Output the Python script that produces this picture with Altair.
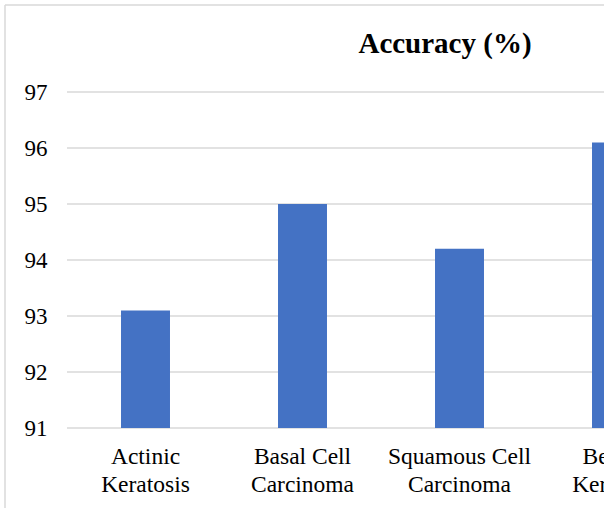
import altair as alt
import pandas as pd

categories = ["Actinic\nKeratosis", "Basal Cell\nCarcinoma", "Squamous Cell\nCarcinoma", "Benign\nKeratosis"]
accuracy = [93.1, 95.0, 94.2, 96.1]
y_ticks = [91, 92, 93, 94, 95, 96, 97]
title_text = "Accuracy (%)"

df = pd.DataFrame({"cat": categories, "acc": accuracy})
grid_df = pd.DataFrame({"tick": y_ticks})

FONT = "Liberation Serif"
PAD_L, PAD_T = 67, 92
W, H = 604 - PAD_L, 336

y_scale = alt.Scale(domain=[91, 97], zero=False, nice=False)
y_axis = alt.Axis(
    values=y_ticks,
    domain=False,
    ticks=False,
    grid=False,
    labelFont=FONT,
    labelFontSize=23,
    labelColor="#000000",
    labelPadding=20,
)

grid = alt.Chart(grid_df).mark_rule(color="#d9d9d9", strokeWidth=1.5).encode(
    y=alt.Y("tick:Q", scale=y_scale, title=None, axis=y_axis),
    x=alt.value(0),
    x2=alt.value(W),
)

bars = alt.Chart(df).mark_bar(color="#4472C4").encode(
    x=alt.X(
        "cat:N",
        sort=None,
        title=None,
        scale=alt.Scale(range=[0, 628], paddingInner=0.688, paddingOuter=0.344),
        axis=alt.Axis(
            domain=False,
            ticks=False,
            grid=False,
            labelAngle=0,
            labelFont=FONT,
            labelFontSize=23.5,
            labelColor="#000000",
            labelPadding=16,
            labelLineHeight=28,
            labelOverlap=False,
            labelExpr="split(datum.label, '\\n')",
        ),
    ),
    y=alt.Y("acc:Q", title=None, scale=y_scale, axis=y_axis),
    y2=alt.datum(91),
)

frame_df = pd.DataFrame({"k": [0]})
left_border = alt.Chart(frame_df).mark_rule(color="#d9d9d9", strokeWidth=1.5).encode(
    x=alt.value(5 - PAD_L), y=alt.value(5 - PAD_T), y2=alt.value(508 - PAD_T)
)
top_border = alt.Chart(frame_df).mark_rule(color="#d9d9d9", strokeWidth=1.5).encode(
    x=alt.value(5 - PAD_L), x2=alt.value(W), y=alt.value(5 - PAD_T)
)
title = alt.Chart(frame_df).mark_text(
    text=title_text,
    font=FONT,
    fontSize=29,
    fontWeight="bold",
    color="#000000",
    align="center",
    baseline="alphabetic",
).encode(x=alt.value(445 - PAD_L), y=alt.value(53 - PAD_T))

chart = (
    alt.layer(grid, bars, left_border, top_border, title)
    .properties(
        width=W,
        height=H,
        background="white",
        padding={"left": PAD_L, "top": PAD_T, "right": 0, "bottom": 508 - PAD_T - H},
        autosize=alt.AutoSizeParams(type="none"),
    )
    .configure_axis(domain=False, ticks=False, grid=False)
    .configure_view(stroke=None, strokeWidth=0)
)

chart.save("out.html", embed_options={"renderer": "svg", "actions": False})
